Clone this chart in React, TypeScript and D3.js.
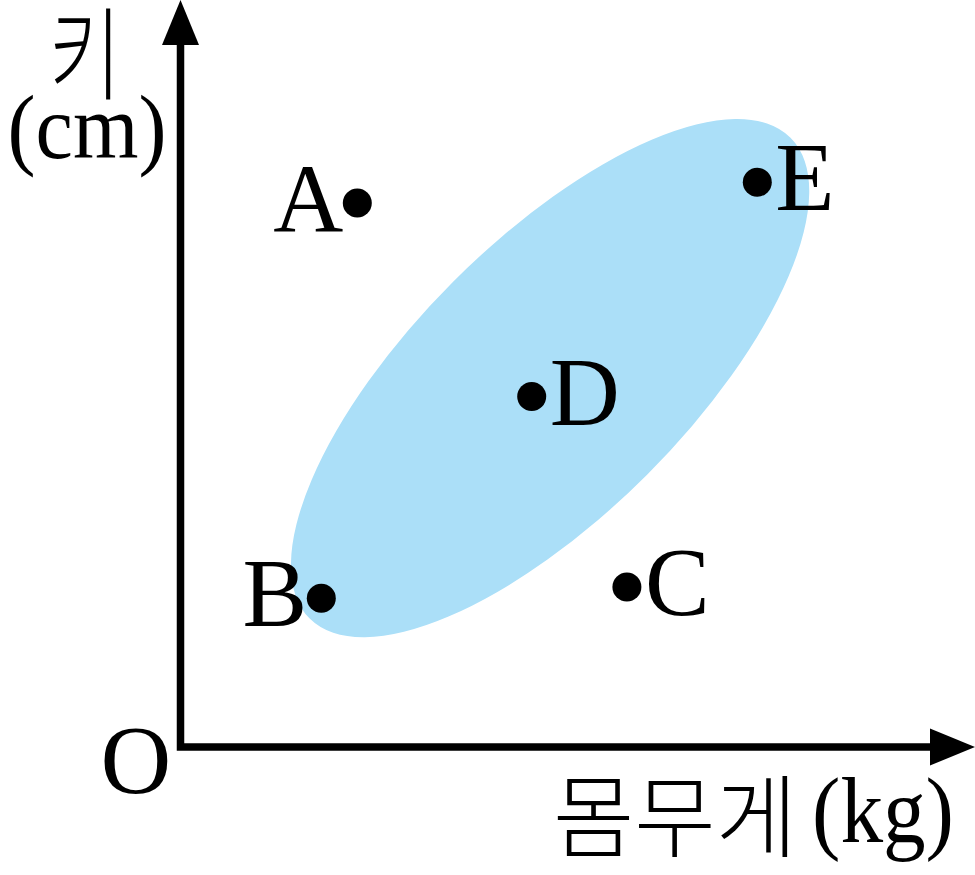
import { useEffect, useRef } from "react";
import * as d3 from "d3";

// 산점도 데이터 (임의 단위)
const names = ["A", "B", "C", "D", "E"];
const weights = [22.1, 17.6, 55.8, 43.9, 72.1];
const heights = [68, 18.6, 20, 43.8, 70.6];
// 라벨이 점의 어느 쪽에 붙는지
const labelSide = ["left", "left", "right", "right", "right"];

// 양의 상관관계 영역 (중심, 반축, 회전각)
const ellipseCenter = [46.2, 46.1];
const ellipseAxes = [42.5, 17.1];
const ellipseAngle = 45;

const xLabel = ["몸무게", "(kg)"];
const yLabel = ["키", "(cm)"];

const W = 975;
const H = 875;

export default function App() {
  const svgRef = useRef<SVGSVGElement>(null);

  useEffect(() => {
    document.body.style.margin = "0";
    if (!svgRef.current) return;
    const svg = d3.select(svgRef.current);
    svg.selectAll("*").remove();

    const x = d3.scaleLinear().domain([0, 100]).range([180.5, 980.5]);
    const y = d3.scaleLinear().domain([0, 100]).range([747, -53]);
    const serif = "'Liberation Serif', serif";
    const kor = "'Noto Sans CJK KR', sans-serif";

    // ellipse
    const [cx, cy] = ellipseCenter;
    svg
      .append("ellipse")
      .attr("cx", x(cx))
      .attr("cy", y(cy))
      .attr("rx", x(ellipseAxes[0]) - x(0))
      .attr("ry", x(ellipseAxes[1]) - x(0))
      .attr("transform", `rotate(${-ellipseAngle},${x(cx)},${y(cy)})`)
      .attr("fill", "#abdff8");

    // axes
    const x0 = x(0);
    const y0 = y(0);
    svg
      .append("path")
      .attr("d", `M${x0},40 V${y0} H940`)
      .attr("fill", "none")
      .attr("stroke", "#000")
      .attr("stroke-width", 7.5);
    svg
      .append("path")
      .attr("d", `M${x0},0 L${x0 + 18.5},45 L${x0 - 18.5},45 Z`)
      .attr("fill", "#000");
    svg
      .append("path")
      .attr("d", `M975,${y0} L930,${y0 - 18.5} L930,${y0 + 18.5} Z`)
      .attr("fill", "#000");

    // points
    const data = names.map((n, i) => ({
      name: n,
      w: weights[i],
      h: heights[i],
      side: labelSide[i],
    }));

    svg
      .selectAll(".pt")
      .data(data)
      .join("circle")
      .attr("class", "pt")
      .attr("cx", (d) => x(d.w))
      .attr("cy", (d) => y(d.h))
      .attr("r", 14.5)
      .attr("fill", "#000");

    svg
      .selectAll(".lbl")
      .data(data)
      .join("text")
      .attr("class", "lbl")
      .attr("x", (d) => (d.side === "left" ? x(d.w) - 14 : x(d.w) + 18))
      .attr("y", (d) => y(d.h) + 28)
      .attr("text-anchor", (d) => (d.side === "left" ? "end" : "start"))
      .style("font-family", serif)
      .style("font-size", "97px")
      .text((d) => d.name);

    // origin
    svg
      .append("text")
      .attr("x", 136)
      .attr("y", 793)
      .attr("text-anchor", "middle")
      .style("font-family", serif)
      .style("font-size", "98px")
      .text("O");

    // x axis title
    svg
      .append("text")
      .attr("x", 553)
      .attr("y", 850)
      .attr("textLength", 244)
      .attr("lengthAdjust", "spacingAndGlyphs")
      .style("font-family", kor)
      .style("font-size", "90px")
      .style("font-weight", 300)
      .text(xLabel[0]);
    svg
      .append("text")
      .attr("x", 812)
      .attr("y", 842)
      .attr("textLength", 142)
      .attr("lengthAdjust", "spacingAndGlyphs")
      .style("font-family", serif)
      .style("font-size", "94px")
      .text(xLabel[1]);

    // y axis title
    svg
      .append("text")
      .attr("transform", "translate(85,92) scale(0.9,1.15)")
      .attr("text-anchor", "middle")
      .style("font-family", kor)
      .style("font-size", "88px")
      .style("font-weight", 300)
      .text(yLabel[0]);
    svg
      .append("text")
      .attr("x", 87)
      .attr("y", 158)
      .attr("textLength", 159)
      .attr("lengthAdjust", "spacingAndGlyphs")
      .attr("text-anchor", "middle")
      .style("font-family", serif)
      .style("font-size", "90px")
      .text(yLabel[1]);
  }, []);

  return (
    <svg
      ref={svgRef}
      width={W}
      height={H}
      style={{ position: "absolute", left: 0, top: 0, background: "#fff" }}
    />
  );
}
